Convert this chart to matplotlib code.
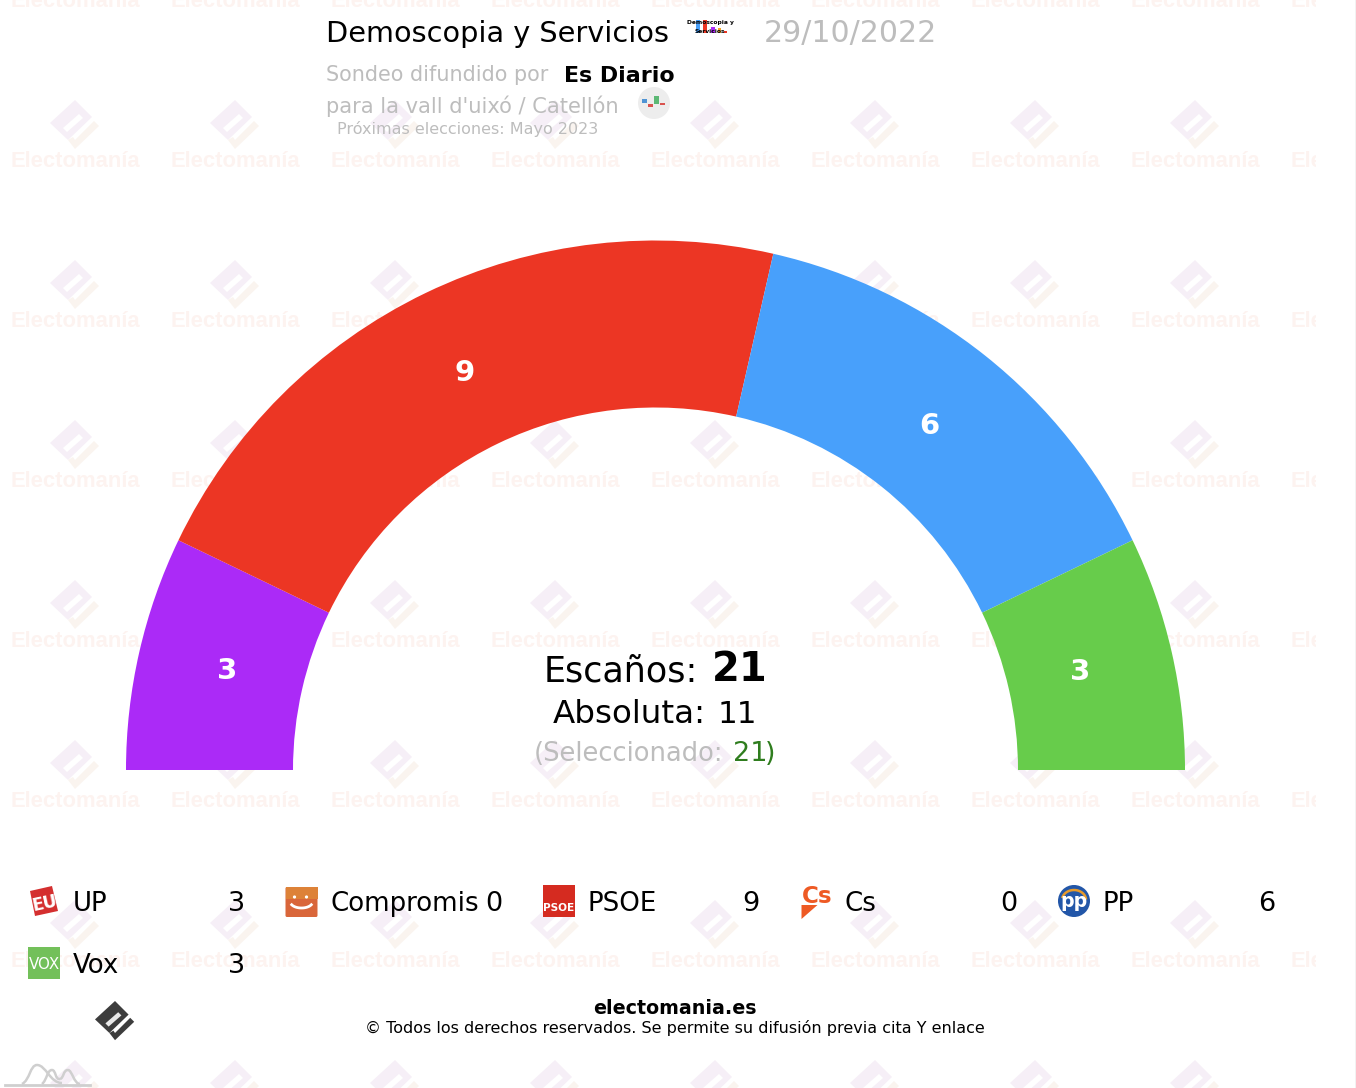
import matplotlib
matplotlib.use('Agg')
import matplotlib.pyplot as plt
import numpy as np
from matplotlib.patches import Wedge, Polygon, Circle, Rectangle, FancyBboxPatch, PathPatch
from matplotlib.path import Path

parties = ['UP', 'Compromis', 'PSOE', 'Cs', 'PP', 'Vox']
seats = [3, 0, 9, 0, 6, 3]
arc_order = ['UP', 'PSOE', 'PP', 'Vox']
arc_colors = ['#ab2af7', '#ec3624', '#48a0fb', '#67cc4b']
label_radius = [439, 440, 439, 436]
total_seats = 21
majority = 11
selected = 21

title = 'Demoscopia y Servicios'
date = '29/10/2022'
media = 'Es Diario'
region = "para la vall d'uixó / Catellón"
next_vote = 'Próximas elecciones: Mayo 2023'

GREY = '#bdbdbd'
CX, CY = 655.5, 770
R_OUT, R_IN = 529.5, 362.5

fig = plt.figure(figsize=(13.56, 10.88), dpi=100)
ax = fig.add_axes([0, 0, 1, 1])
ax.set_xlim(0, 1356)
ax.set_ylim(1088, 0)
ax.axis('off')


def px(size):
    return size * 0.72


def logo(cx, cy, c1, c2, z=1, slit='white', s=1.0):
    # the diamond mark, scaled from the 75,125 reference one
    def pts(ls):
        return [(cx + a * s, cy + b * s) for a, b in ls]
    ax.add_patch(Polygon(pts([(0, -25), (-25, -2), (-7, 15), (17, -8)]), fc=c1, ec='none', zorder=z))
    ax.add_patch(Polygon(pts([(-12, 3), (4, -11), (8, -7), (-8, 7)]), fc=slit, ec='none', zorder=z))
    ax.add_patch(Polygon(pts([(-7, 15), (0, 24), (24, 1), (19, -4), (0, 15), (-2, 12)]),
                         fc=c2, ec='none', zorder=z))


# watermark grid
clip = Rectangle((0, 0), 1316, 1088, transform=ax.transData)
for col in range(9):
    wx = 75 + 160 * col
    for row in range(7):
        t = ax.text(wx, 167 + 160 * (row - 1), 'Electomanía', family='Liberation Sans', weight='bold',
                    fontsize=px(22), color='#fdf3f0', ha='center', va='baseline', zorder=1)
        t.set_clip_on(True)
        t.set_clip_path(clip)
        if wx < 1316:
            logo(wx, 125 + 160 * row, '#f6eff7', '#faf4ef', z=1)

# seat arc
cum = 0
for name, color, lr in zip(arc_order, arc_colors, label_radius):
    n = seats[parties.index(name)]
    a1 = 180 + 180 * cum / total_seats
    a2 = 180 + 180 * (cum + n) / total_seats
    ax.add_patch(Wedge((CX, CY), R_OUT, a1, a2, width=R_OUT - R_IN, fc=color, ec='none', zorder=3))
    mid = np.radians((a1 + a2) / 2)
    ax.text(CX + lr * np.cos(mid), CY + lr * np.sin(mid) - 1, str(n), color='white', weight='bold',
            fontsize=px(29), ha='center', va='center', zorder=4)
    cum += n

# header
ax.text(326, 42, title, fontsize=px(28.7), color='black', va='baseline', zorder=5)
ax.text(764, 42, date, fontsize=px(30), color=GREY, va='baseline', zorder=5)
ax.text(326, 81, 'Sondeo difundido por', fontsize=px(20.8), color=GREY, va='baseline', zorder=5)
ax.text(564, 82, media, fontsize=px(22.2), color='black', weight='bold', va='baseline', zorder=5)
ax.text(326, 113, region, fontsize=px(21), color=GREY, va='baseline', zorder=5)
ax.text(337, 134, next_vote, fontsize=px(16), color=GREY, va='baseline', zorder=5)

# pollster thumbnail
for bx, bw, by, bc in [(696, 4, 20, '#48a0fb'), (703, 4, 20, '#ec3624'), (711, 4, 27, '#ab2af7'),
                       (718, 3, 28, '#f5a623'), (724, 3, 31, '#ec3624')]:
    ax.add_patch(Rectangle((bx, by), bw, 33 - by, fc=bc, ec='none', zorder=5))
ax.text(710, 24, 'Demoscopia y', fontsize=px(6), weight='bold', ha='center', zorder=6)
ax.text(710, 33, 'Servicios', fontsize=px(6), weight='bold', ha='center', zorder=6)

# media thumbnail
ax.add_patch(Circle((654, 103), 16, fc='#ededed', ec='none', zorder=5))
for bx, bw, y0, y1, bc in [(642, 5, 99, 103, '#4f94d4'), (648, 5, 104, 107, '#d9534f'),
                           (654, 5, 96, 104, '#5cb874'), (660, 5, 103, 105, '#d9534f')]:
    ax.add_patch(Rectangle((bx, y0), bw, y1 - y0, fc=bc, ec='none', zorder=6))

# centre text
ax.text(544, 681, 'Escaños:', fontsize=px(35), color='black', va='baseline', zorder=5)
ax.text(712, 681, str(total_seats), fontsize=px(40), color='black', weight='bold', va='baseline', zorder=5)
ax.text(553, 723, 'Absoluta:', fontsize=px(32.5), color='black', va='baseline', zorder=5)
ax.text(718, 723, str(majority), fontsize=px(31), color='black', va='baseline', zorder=5)
ax.text(534, 761, '(Seleccionado:', fontsize=px(25.8), color=GREY, va='baseline', zorder=5)
ax.text(733, 761, str(selected), fontsize=px(27), color='#2f7d1e', va='baseline', zorder=5)
ax.text(765, 761, ')', fontsize=px(27), color='#2f7d1e', va='baseline', zorder=5)


# party icons, drawn by hand
def icon_up(x, y):
    ax.add_patch(Polygon([(x + 2, y - 11), (x + 24, y - 16), (x + 30, y + 9), (x + 7, y + 14)], fc='#d42f2f', ec='none', zorder=5))
    ax.text(x + 17, y + 9, 'EU', fontsize=px(17), weight='bold', color='white', ha='center', rotation=12, zorder=6)


def icon_compromis(x, y):
    ax.add_patch(FancyBboxPatch((x, y - 15), 32, 30, boxstyle='round,pad=0,rounding_size=1.5', fc='#d9663a', ec='none', zorder=5))
    ax.add_patch(Rectangle((x, y - 15), 32, 12, fc='#dd8238', ec='none', zorder=5))
    t = np.linspace(0.15, 0.85, 20) * np.pi
    ax.plot(x + 16 + 11 * np.cos(t), y + 0 + 6 * np.sin(t), color='white', lw=2, zorder=6)
    ax.add_patch(Circle((x + 9, y - 5), 1.6, fc='white', zorder=6))
    ax.add_patch(Circle((x + 21, y - 5), 1.6, fc='white', zorder=6))


def icon_psoe(x, y):
    ax.add_patch(Rectangle((x, y - 17), 32, 32, fc='#d52b20', ec='none', zorder=5))
    ax.text(x + 16, y + 9, 'PSOE', fontsize=px(10.5), weight='bold', color='white', ha='center', zorder=6)


def icon_cs(x, y):
    ax.text(x + 1, y + 1, 'Cs', fontsize=px(23), weight='bold', color='#ee5a24', ha='left', zorder=6)
    ax.add_patch(Polygon([(x + 1, y + 3), (x + 17, y + 3), (x + 1, y + 17)], fc='#ee5a24', ec='none', zorder=5))


def icon_pp(x, y):
    ax.add_patch(Circle((x + 16, y - 1), 16, fc='#2256a8', ec='none', zorder=5))
    t = np.linspace(0.05, 0.9, 20) * np.pi
    ax.plot(x + 16 + 12 * np.cos(t), y - 2 - 10 * np.sin(t), color='#e79a2b', lw=1.8, zorder=6)
    ax.text(x + 16, y + 5, 'pp', fontsize=px(19), weight='bold', color='white', ha='center', zorder=6)


def icon_vox(x, y):
    ax.add_patch(Rectangle((x, y - 17), 32, 32, fc='#73c05a', ec='none', zorder=5))
    ax.text(x + 16, y + 5, 'VOX', fontsize=px(15), color='white', ha='center', zorder=6)


icons = [icon_up, icon_compromis, icon_psoe, icon_cs, icon_pp, icon_vox]

# legend
for i, (name, n) in enumerate(zip(parties, seats)):
    col, row = i % 5, i // 5
    base = 911 + 62 * row
    x0 = 257.5 * col
    ax.text(x0 + 72.5, base, name, fontsize=px(26), color='black', va='baseline', zorder=5)
    ax.text(x0 + 245, base, str(n), fontsize=px(27), color='black', ha='right', va='baseline', zorder=5)
    icons[i](x0 + 28, base - 9)

# footer
ax.text(675, 1014, 'electomania.es', fontsize=px(19), weight='bold', color='black', ha='center', va='baseline', zorder=5)
ax.text(675, 1033, '© Todos los derechos reservados. Se permite su difusión previa cita Y enlace',
        fontsize=px(16), color='black', ha='center', va='baseline', zorder=5)
logo(115, 1021, '#3d3d3d', '#3d3d3d', z=5, slit='#e8e8e8', s=0.8)

# small curve mark, bottom left
ax.plot([5, 90], [1085, 1085], color='#cfcfcf', lw=2, zorder=5)
codes = [Path.MOVETO] + [Path.CURVE4] * 6
hill_a = [(22, 1084), (30, 1080), (30, 1065), (37, 1065), (46, 1065), (50, 1083), (62, 1083)]
hill_b = [(42, 1084), (47, 1080), (47, 1070), (52, 1070), (56, 1070), (55, 1080), (60, 1079)]
hill_c = [(60, 1079), (64, 1078), (63, 1070), (68, 1070), (72, 1070), (74, 1084), (80, 1084)]
for verts in [hill_a, hill_b, hill_c]:
    ax.add_patch(PathPatch(Path(verts, codes), fc='none', ec='#cfcfcf', lw=1.8, zorder=5))

# thin grey edge on the right side
ax.add_patch(Rectangle((1354.5, 0), 1.5, 1088, fc='#f2f2f2', ec='none', zorder=1))

fig.savefig('out.png', dpi=100)
